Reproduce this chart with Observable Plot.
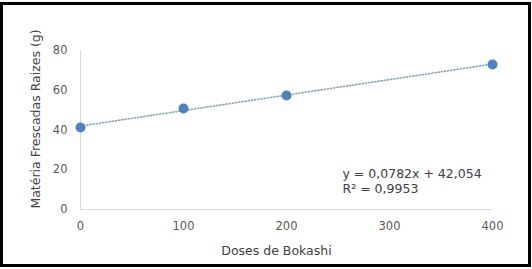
<!DOCTYPE html>
<html>
<head>
<meta charset="utf-8">
<script src="https://cdn.jsdelivr.net/npm/d3@7"></script>
<script src="https://cdn.jsdelivr.net/npm/@observablehq/plot@0.6"></script>
<style>
  html, body { margin: 0; padding: 0; background: #fff; }
  #wrap { position: relative; width: 532px; height: 269px; overflow: hidden; }
  #border { position: absolute; left: 0px; top: 2px; width: 531px; height: 265px; border: 3px solid #000; box-sizing: border-box; pointer-events: none; }
  #chart { position: absolute; left: 0; top: 0; }
</style>
</head>
<body>
<div id="wrap"><div id="chart"></div><div id="border"></div></div>
<script>
const doses = [0, 100, 200, 400];
const massa = [41.3, 50.8, 57.4, 73.0];
const xTicks = [0, 100, 200, 300, 400];
const yTicks = [0, 20, 40, 60, 80];
const equationText = "y = 0,0782x + 42,054\nR² = 0,9953";

const data = doses.map((d, i) => ({dose: d, massa: massa[i]}));

const chart = Plot.plot({
  width: 532,
  height: 269,
  marginLeft: 80,
  marginRight: 40,
  marginTop: 50,
  marginBottom: 60,
  style: {fontFamily: "DejaVu Sans, sans-serif", fontSize: "12px", color: "#404040", background: "transparent"},
  x: {domain: [0, 400]},
  y: {domain: [0, 80]},
  marks: [
    Plot.ruleY([0], {stroke: "#d9d9d9", strokeWidth: 1}),
    Plot.ruleX([0], {stroke: "#d9d9d9", strokeWidth: 1}),
    Plot.axisX({ticks: xTicks, tickSize: 0, tickPadding: 12, fontSize: 11.5, fill: "#595959",
      label: "Doses de Bokashi", labelAnchor: "center", labelOffset: 45, labelArrow: "none"}),
    Plot.axisY({ticks: yTicks, tickSize: 0, tickPadding: 13, fontSize: 11.5, fill: "#595959",
      label: "Matéria Frescadas Raizes (g)", labelAnchor: "center", labelOffset: 49, labelArrow: "none"}),
    Plot.linearRegressionY(data, {x: "dose", y: "massa", ci: 0, stroke: "#8ea2b8", strokeWidth: 1.6, strokeDasharray: "1.2,2"}),
    Plot.dot(data, {x: "dose", y: "massa", r: 5, fill: "#4f81bd", stroke: "none"}),
    Plot.text([equationText], {frameAnchor: "bottom-right", textAnchor: "start", dx: -150, dy: -17,
      fontSize: 12.5, fill: "#404040", lineHeight: 1.15})
  ]
});
document.getElementById("chart").appendChild(chart);
// axis titles slightly larger and darker than tick labels, nudged as in the original
function nudge(g, dx, dy) {
  if (!g) return;
  g.querySelectorAll("text").forEach(t => {
    t.setAttribute("font-size", "12.5");
    t.setAttribute("fill", "#404040");
  });
  const prev = g.getAttribute("transform") || "";
  g.setAttribute("transform", `translate(${dx},${dy}) ${prev}`);
}
nudge(chart.querySelector("g[aria-label='x-axis label']"), -10, 0);
nudge(chart.querySelector("g[aria-label='y-axis label']"), 0, -11);
</script>
</body>
</html>
